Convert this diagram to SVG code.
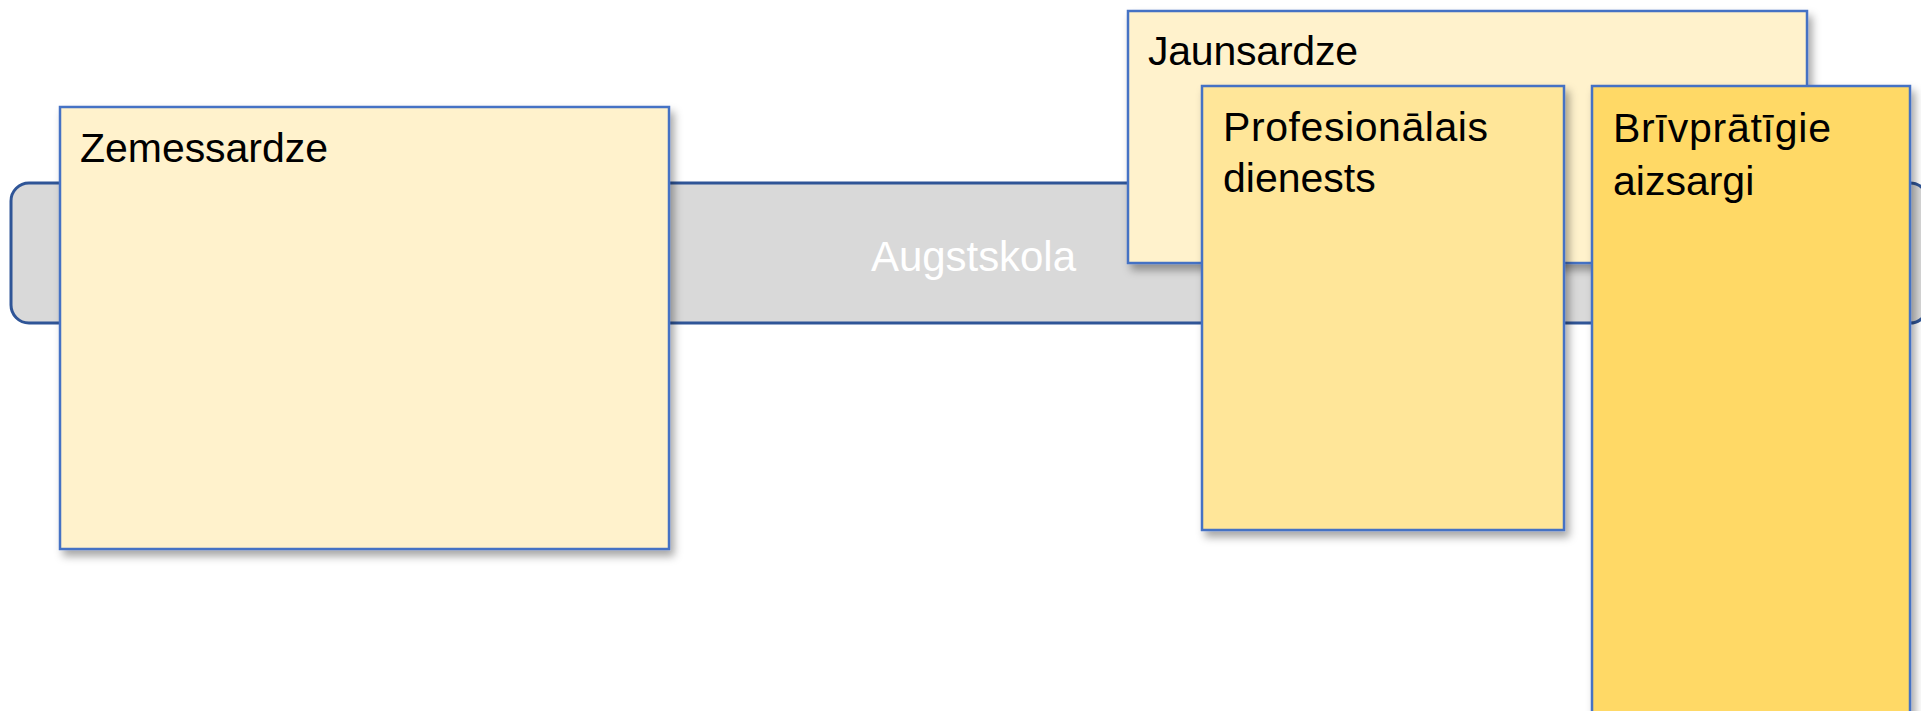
<svg xmlns="http://www.w3.org/2000/svg" width="1921" height="711" viewBox="0 0 1921 711">
  <defs>
    <filter id="sh" x="-10%" y="-10%" width="130%" height="130%">
      <feDropShadow dx="4" dy="6" stdDeviation="4" flood-color="#000" flood-opacity="0.35"/>
    </filter>
  </defs>
  <style>
    .lbl { font-family: "Liberation Sans", Arial, sans-serif; font-size: 41px; fill: #000; }
    .box { stroke: #4472C4; stroke-width: 2.5; filter: url(#sh); }
    .band { fill: #D9D9D9; stroke: #2F5597; stroke-width: 3; }
  </style>
  <rect width="1921" height="711" fill="#FFFFFF"/>
  <g id="augstskola">
    <rect class="band" x="11" y="183" width="1917" height="140" rx="18" ry="18"/>
    <text x="973.5" y="271" text-anchor="middle" style="font-family: 'Liberation Sans', Arial, sans-serif; font-size: 42px; fill: #FFFFFF;" textLength="205">Augstskola</text>
  </g>
  <g id="zemessardze">
    <rect class="box" x="60" y="107" width="609" height="442" fill="#FFF2CC"/>
    <text class="lbl" x="80" y="162" textLength="248">Zemessardze</text>
  </g>
  <g id="jaunsardze">
    <rect class="box" x="1128" y="11" width="679" height="252" fill="#FFF2CC"/>
    <text class="lbl" x="1148" y="65" textLength="210">Jaunsardze</text>
  </g>
  <g id="profesionalais">
    <rect class="box" x="1202" y="86" width="362" height="444" fill="#FFE699"/>
    <text class="lbl" x="1223" y="141" textLength="265">Profesionālais</text>
    <text class="lbl" x="1223" y="192">dienests</text>
  </g>
  <g id="brivpratigie">
    <rect class="box" x="1592" y="86" width="318" height="640" fill="#FFD966"/>
    <text class="lbl" x="1613" y="142" textLength="218">Brīvprātīgie</text>
    <text class="lbl" x="1613" y="195">aizsargi</text>
  </g>
  <g id="connectors"/>
</svg>
